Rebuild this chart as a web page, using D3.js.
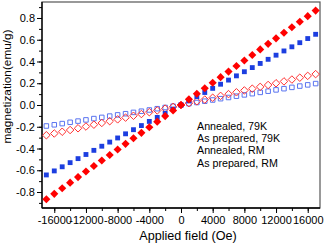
<!DOCTYPE html>
<meta charset="utf-8">
<style>
  body { margin: 0; background: #fff; }
  .axis text { font: 11px "Liberation Sans", Arial, sans-serif; fill: #000; }
  .axis path, .axis line { stroke: #000; fill: none; }
  .legend text { font: 10.7px "Liberation Sans", Arial, sans-serif; fill: #000; }
</style>
<body>
<script src="https://d3js.org/d3.v7.min.js"></script>
<script>
// applied field, Oe
var field = [-17000,-16000,-15000,-14000,-13000,-12000,-11000,-10000,-9000,-8000,-7000,-6000,-5000,-4000,-3000,-2000,-1000,0,
  1000,2000,3000,4000,5000,6000,7000,8000,9000,10000,11000,12000,13000,14000,15000,16000,17000];

// magnetization, emu/g
var annealed79 = [-0.867,-0.817,-0.766,-0.714,-0.663,-0.611,-0.561,-0.510,-0.460,-0.409,-0.357,-0.306,-0.256,-0.205,-0.153,-0.102,-0.051,0.000,
  0.052,0.103,0.154,0.205,0.256,0.307,0.358,0.409,0.460,0.511,0.562,0.613,0.664,0.715,0.766,0.817,0.868];
var prepared79 = [-0.643,-0.606,-0.568,-0.530,-0.493,-0.455,-0.417,-0.379,-0.341,-0.303,-0.265,-0.227,-0.189,-0.151,-0.114,-0.076,-0.038,0.000,
  0.038,0.077,0.115,0.153,0.191,0.229,0.268,0.306,0.344,0.382,0.420,0.458,0.497,0.535,0.573,0.611,0.650];
var annealedRM = [-0.278,-0.262,-0.246,-0.230,-0.214,-0.198,-0.181,-0.165,-0.149,-0.132,-0.116,-0.099,-0.083,-0.066,-0.050,-0.033,-0.017,0.000,
  0.017,0.034,0.050,0.067,0.084,0.100,0.117,0.134,0.150,0.167,0.184,0.200,0.217,0.234,0.251,0.268,0.284];
var preparedRM = [-0.193,-0.182,-0.171,-0.159,-0.148,-0.137,-0.125,-0.114,-0.102,-0.091,-0.080,-0.068,-0.057,-0.046,-0.034,-0.023,-0.011,0.000,
  0.012,0.023,0.035,0.046,0.058,0.069,0.081,0.093,0.104,0.116,0.127,0.139,0.150,0.162,0.174,0.185,0.197];

var legendLabels = ["Annealed, 79K", "As prepared, 79K", "Annealed, RM", "As prepared, RM"];
var xTicks = [-16000,-12000,-8000,-4000,0,4000,8000,12000,16000];
var yTicks = [-0.8,-0.6,-0.4,-0.2,0.0,0.2,0.4,0.6,0.8];

var margin = {top: 2, right: 9, bottom: 37, left: 42},
    width = 329 - margin.left - margin.right,
    height = 245 - margin.top - margin.bottom;

var x = d3.scaleLinear().domain([-17550, 17550]).range([0, width]);
var y = d3.scaleLinear().domain([-0.947, 0.947]).range([height, 0]);

var svg = d3.select("body").append("svg")
    .attr("width", 329)
    .attr("height", 245)
  .append("g")
    .attr("transform", "translate(" + margin.left + "," + margin.top + ")");

// frame (top/right in grey)
svg.append("rect")
    .attr("width", width).attr("height", height)
    .attr("fill", "none").attr("stroke", "#555").attr("stroke-width", 1.2);

// minor ticks
svg.append("g").attr("class", "axis")
    .attr("transform", "translate(0," + height + ")")
    .call(d3.axisBottom(x).tickValues(d3.range(-16000, 16001, 2000)).tickSize(3).tickFormat(""))
    .select(".domain").remove();
svg.append("g").attr("class", "axis")
    .call(d3.axisLeft(y).tickValues(d3.range(-9, 10).map(function(d) { return d / 10; })).tickSize(3).tickFormat(""))
    .select(".domain").remove();

// major ticks + labels
var xAxis = svg.append("g").attr("class", "axis")
    .attr("transform", "translate(0," + height + ")")
    .call(d3.axisBottom(x).tickValues(xTicks).tickSize(5).tickPadding(3));
xAxis.select(".domain").attr("d", "M0,0H" + width).attr("stroke-width", 1.3);
xAxis.selectAll("text").text(function(d) { return d < 0 ? "-" + Math.abs(d) : d; });

var yAxis = svg.append("g").attr("class", "axis")
    .call(d3.axisLeft(y).tickValues(yTicks).tickSize(5).tickPadding(2));
yAxis.select(".domain").attr("d", "M0,0V" + height).attr("stroke-width", 1.3);
yAxis.selectAll("text").text(function(d) { return d3.format(".1f")(d).replace("−", "-"); });

// titles
svg.append("text")
    .attr("x", 146).attr("y", 237.5)
    .attr("text-anchor", "middle")
    .style("font", "12.6px 'Liberation Sans', Arial, sans-serif")
    .text("Applied field (Oe)");
svg.append("text")
    .attr("transform", "translate(" + (-31.5) + "," + 84.5 + ")rotate(-90)")
    .attr("text-anchor", "middle")
    .style("font", "11.8px 'Liberation Sans', Arial, sans-serif")
    .text("magnetization(emu/g)");

// series (drawn back to front)
var diamond = d3.symbol().type(d3.symbolDiamond2);
var square = d3.symbol().type(d3.symbolSquare2);

function draw(values, sym, size, fill, stroke) {
  svg.append("g").selectAll("path")
    .data(field)
    .enter().append("path")
      .attr("transform", function(d, i) { return "translate(" + x(d) + "," + y(values[i]) + ")"; })
      .attr("d", sym.size(size)())
      .attr("fill", fill)
      .attr("stroke", stroke)
      .attr("stroke-width", 1);
}
draw(preparedRM, square, 26, "none", "#5a74f0");
draw(annealedRM, diamond, 36, "none", "#ff3030");
draw(prepared79, square, 30, "#1c3ee0", "none");
draw(annealed79, diamond, 42, "#ff0000", "none");

// legend
var legend = svg.append("g").attr("class", "legend")
    .attr("transform", "translate(155,127.7)");
legend.selectAll("text")
    .data(legendLabels)
    .enter().append("text")
      .attr("x", 0)
      .attr("y", function(d, i) { return i * 12.3; })
      .text(function(d) { return d; });

// arrow
var ax = 246.3;
legend.append("line")
    .attr("x1", ax).attr("x2", ax)
    .attr("y1", -12.7).attr("y2", 43)
    .attr("stroke", "#223").attr("stroke-width", 1);
legend.append("path")
    .attr("d", "M" + (ax - 2) + ",41L" + ax + ",47.3L" + (ax + 2) + ",41Z")
    .attr("fill", "#223");
</script>
</body>
